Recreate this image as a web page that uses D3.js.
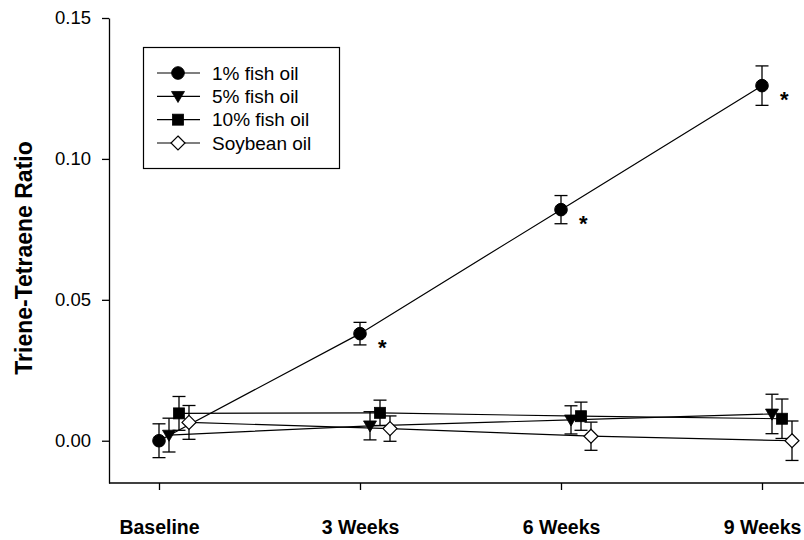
<!DOCTYPE html>
<html>
<head>
<meta charset="utf-8">
<script src="https://cdn.jsdelivr.net/npm/d3@7/dist/d3.min.js"></script>
<style>
  html, body { margin: 0; padding: 0; background: #fff; }
  svg { display: block; font-family: "Liberation Sans", Arial, sans-serif; }
</style>
</head>
<body>
<svg id="chart" width="804" height="540"></svg>
<script>
// Time points
const categories = ["Baseline", "3 Weeks", "6 Weeks", "9 Weeks"];
const seriesNames = ["1% fish oil", "5% fish oil", "10% fish oil", "Soybean oil"];

// Mean triene:tetraene ratio per group
const oil1Values  = [0.000, 0.038, 0.082, 0.126];
const oil5Values  = [0.0020, 0.0053, 0.0074, 0.0095];
const oil10Values = [0.0097, 0.0099, 0.0087, 0.0078];
const soyValues   = [0.0065, 0.0043, 0.0016, 0.0000];

// Error (± SEM)
const oil1Err  = [0.006, 0.004, 0.005, 0.007];
const oil5Err  = [0.006, 0.005, 0.005, 0.007];
const oil10Err = [0.006, 0.0045, 0.005, 0.007];
const soyErr   = [0.006, 0.0045, 0.005, 0.007];

// Significance markers (1% fish oil)
const significant = [false, true, true, true];

const yTicks = [0.00, 0.05, 0.10, 0.15];

const seriesList = [
  { name: seriesNames[0], values: oil1Values,  err: oil1Err,  symbol: "circle" },
  { name: seriesNames[1], values: oil5Values,  err: oil5Err,  symbol: "triangle" },
  { name: seriesNames[2], values: oil10Values, err: oil10Err, symbol: "square" },
  { name: seriesNames[3], values: soyValues,   err: soyErr,   symbol: "diamond" }
];

const svg = d3.select("#chart");

const plotLeft = 109, plotRight = 804, plotTop = 18, plotBottom = 483;

const x = d3.scalePoint().domain(categories).range([159, 762]);
const dodge = d3.scalePoint().domain(seriesNames).range([0, 30]);
const y = d3.scaleLinear().domain([-0.015, 0.15]).range([plotBottom, plotTop]);

// Marker shapes
function drawMarker(g, type, cx, cy) {
  if (type === "circle") {
    g.append("circle").attr("cx", cx).attr("cy", cy).attr("r", 6.3)
      .attr("fill", "#000").attr("stroke", "#000");
  } else if (type === "triangle") {
    const s = 6.5;
    g.append("path")
      .attr("d", `M${cx - s},${cy - s * 0.75}L${cx + s},${cy - s * 0.75}L${cx},${cy + s * 0.95}Z`)
      .attr("fill", "#000").attr("stroke", "#000").attr("stroke-width", 0.8);
  } else if (type === "square") {
    const s = 5.5;
    g.append("rect").attr("x", cx - s).attr("y", cy - s).attr("width", 2 * s).attr("height", 2 * s)
      .attr("fill", "#000").attr("stroke", "#000").attr("stroke-width", 0.8);
  } else if (type === "diamond") {
    const s = 7;
    g.append("path")
      .attr("d", `M${cx},${cy - s}L${cx + s},${cy}L${cx},${cy + s}L${cx - s},${cy}Z`)
      .attr("fill", "#fff").attr("stroke", "#000").attr("stroke-width", 1.2);
  }
}

// Axes
const yAxis = d3.axisLeft(y).tickValues(yTicks).tickFormat(d3.format(".2f"))
  .tickSizeInner(7).tickSizeOuter(0).tickPadding(11);
const gy = svg.append("g").attr("transform", `translate(${plotLeft},0)`).call(yAxis);
gy.select(".domain").attr("stroke", "#000").attr("stroke-width", 1.3);
gy.selectAll(".tick line").attr("stroke", "#000").attr("stroke-width", 1.3);
gy.selectAll(".tick text").attr("font-size", 18.5).attr("fill", "#000")
  .attr("font-family", "Liberation Sans, Arial, sans-serif");

const xAxis = d3.axisBottom(x).tickSizeInner(7).tickSizeOuter(0).tickPadding(30);
const gx = svg.append("g").attr("transform", `translate(0,${plotBottom})`).call(xAxis);
gx.select(".domain").remove();
gx.append("line").attr("x1", plotLeft).attr("x2", plotRight).attr("y1", 0).attr("y2", 0)
  .attr("stroke", "#000").attr("stroke-width", 1.3);
gx.selectAll(".tick line").attr("stroke", "#000").attr("stroke-width", 1.3);
gx.selectAll(".tick text").attr("font-size", 19.5).attr("font-weight", "bold").attr("fill", "#000")
  .attr("font-family", "Liberation Sans, Arial, sans-serif");

// Y title
svg.append("text")
  .attr("transform", `translate(32,258) rotate(-90)`)
  .attr("text-anchor", "middle")
  .attr("font-size", 23).attr("font-weight", "bold").attr("fill", "#000")
  .text("Triene-Tetraene Ratio");

// Series lines
const line = d3.line();
seriesList.forEach(s => {
  const pts = s.values.map((v, i) => [x(categories[i]) + dodge(s.name), y(v)]);
  svg.append("path").attr("d", line(pts)).attr("fill", "none")
    .attr("stroke", "#000").attr("stroke-width", 1.2);
});

// Error bars
seriesList.forEach(s => {
  const g = svg.append("g").attr("stroke", "#000").attr("stroke-width", 1.3);
  s.values.forEach((v, i) => {
    const cx = x(categories[i]) + dodge(s.name);
    const top = y(v + s.err[i]), bot = y(v - s.err[i]);
    g.append("line").attr("x1", cx).attr("x2", cx).attr("y1", top).attr("y2", bot);
    g.append("line").attr("x1", cx - 6.5).attr("x2", cx + 6.5).attr("y1", top).attr("y2", top);
    g.append("line").attr("x1", cx - 6.5).attr("x2", cx + 6.5).attr("y1", bot).attr("y2", bot);
  });
});

// Markers
seriesList.forEach(s => {
  const g = svg.append("g");
  s.values.forEach((v, i) => {
    drawMarker(g, s.symbol, x(categories[i]) + dodge(s.name), y(v));
  });
});

// Asterisks
oil1Values.forEach((v, i) => {
  if (!significant[i]) return;
  svg.append("text")
    .attr("x", x(categories[i]) + 18).attr("y", y(v) + 21)
    .attr("font-size", 22).attr("font-weight", "bold").attr("fill", "#000")
    .text("*");
});

// Legend
const legend = svg.append("g");
legend.append("rect").attr("x", 143.5).attr("y", 47.5).attr("width", 196).attr("height", 121)
  .attr("fill", "#fff").attr("stroke", "#000").attr("stroke-width", 1.2);
const legendRow = d3.scalePoint().domain(seriesNames).range([73, 143]);
seriesList.forEach(s => {
  const ly = legendRow(s.name);
  legend.append("line").attr("x1", 157).attr("x2", 200).attr("y1", ly).attr("y2", ly)
    .attr("stroke", "#000").attr("stroke-width", 1.2);
  drawMarker(legend, s.symbol, 178, ly);
  legend.append("text").attr("x", 212).attr("y", ly).attr("dy", "0.35em")
    .attr("font-size", 19).attr("fill", "#000").text(s.name);
});
</script>
</body>
</html>
